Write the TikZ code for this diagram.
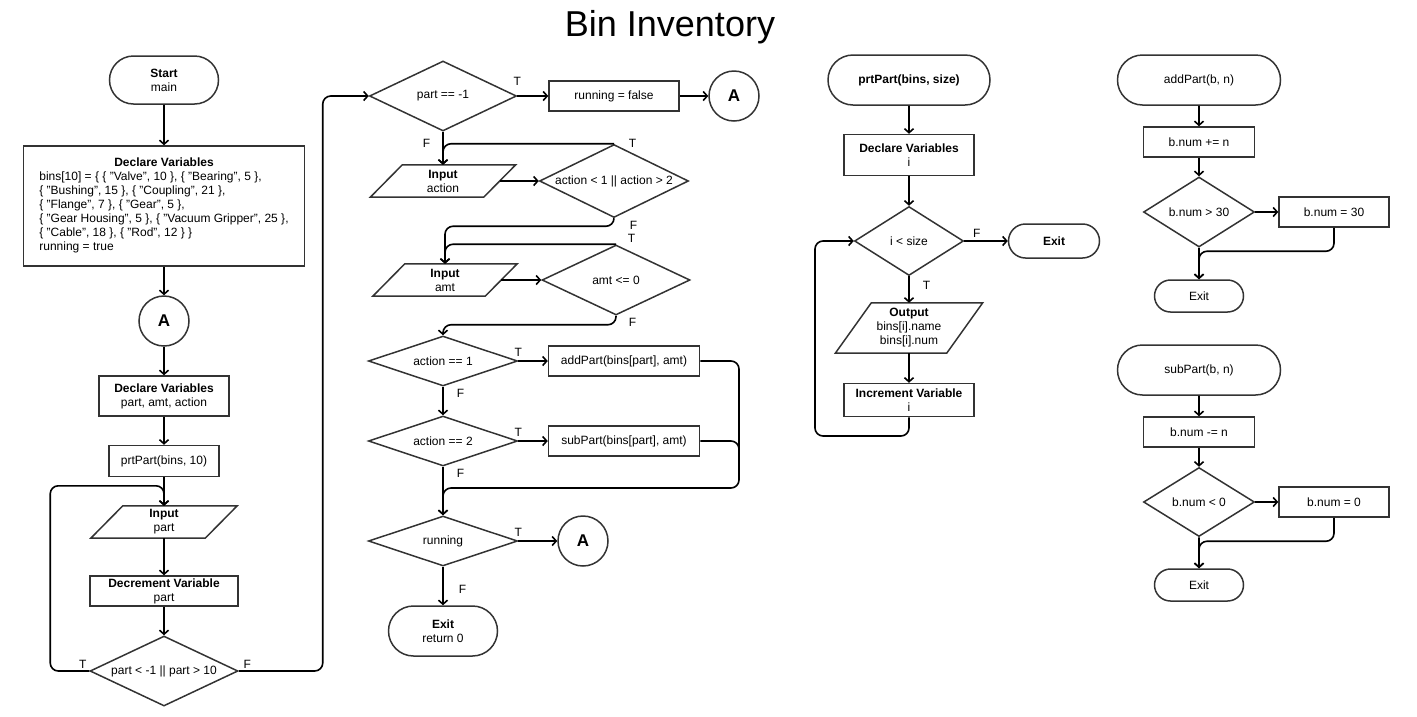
\documentclass[tikz,border=0pt]{standalone}
\usepackage{fontspec}
\setmainfont{Liberation Sans}
\usepackage{tikz}
\usetikzlibrary{arrows.meta,shapes.geometric,shapes.misc,positioning}
\definecolor{linegray}{HTML}{333333}

\begin{document}
\begin{tikzpicture}[x=1pt,y=-1pt,
  every node/.style={font=\fontsize{12}{14}\selectfont},
  sz/.style 2 args={minimum width=#1pt,minimum height=#2pt},
  shapeframe/.style={draw=linegray,line width=1.5pt},
  box/.style={shapeframe,rectangle,inner sep=0pt,align=center},
  term/.style={shapeframe,rounded rectangle,inner sep=0pt,align=center},
  cond/.style={shapeframe,diamond,aspect=2,inner sep=0pt,align=center},
  con/.style={shapeframe,circle,minimum size=50pt,inner sep=0pt,font=\fontsize{17}{20}\selectfont\bfseries},
  io/.style={rectangle,inner sep=0pt,align=center},
  flow/.style={draw=black,line width=1.6pt,rounded corners=8pt,-{Straight Barb[length=4pt,width=9pt]}},
  lbl/.style={inner sep=1pt}]
\useasboundingbox (0,0) rectangle (1417,716);
\node[font=\fontsize{36}{43}\selectfont] (title) at (670,27) {Bin Inventory};

\node[term,sz={109}{48}] (start) at (164,80) {\textbf{Start}\\main};
\node[box,sz={281}{120}] (vars) at (164,206) {\begin{tabular}{@{}l@{}}
\multicolumn{1}{@{}c@{}}{\textbf{Declare Variables}}\\
bins[10] = \{ \{ "Valve", 10 \}, \{ "Bearing", 5 \},\\
\{ "Bushing", 15 \}, \{ "Coupling", 21 \},\\
\{ "Flange", 7 \}, \{ "Gear", 5 \},\\
\{ "Gear Housing", 5 \}, \{ "Vacuum Gripper", 25 \},\\
\{ "Cable", 18 \}, \{ "Rod", 12 \} \}\\
running = true
\end{tabular}};
\node[con] (a1) at (164,321) {A};
\node[box,sz={130}{40}] (vars2) at (164,396) {\textbf{Declare Variables}\\part, amt, action};
\node[box,sz={110}{31}] (call) at (164,461) {prtPart(bins, 10)};
\node[io,sz={114}{32}] (inpart) at (164,522) {\textbf{Input}\\part};
\node[box,sz={148}{30}] (decr) at (164,591) {\textbf{Decrement Variable}\\part};
\node[cond,sz={148}{70}] (chk) at (164,671) {part < -1 || part > 10};

\node[cond,sz={147}{70}] (neg) at (443,96) {part == -1};
\node[box,sz={130}{30}] (stop) at (614,96) {running = false};
\node[con] (a2) at (734,96) {A};
\node[io,sz={113}{32}] (inact) at (443,181) {\textbf{Input}\\action};
\node[cond,sz={149}{73}] (actchk) at (614,181) {action < 1 || action > 2};
\node[io,sz={112}{32}] (inamt) at (445,280) {\textbf{Input}\\amt};
\node[cond,sz={148}{70}] (amtchk) at (616,280) {amt <= 0};
\node[cond,sz={149}{50}] (act1) at (443,361) {action == 1};
\node[box,sz={151}{30}] (add) at (624,361) {addPart(bins[part], amt)};
\node[cond,sz={149}{50}] (act2) at (443,441) {action == 2};
\node[box,sz={151}{30}] (sub) at (624,441) {subPart(bins[part], amt)};
\node[cond,sz={149}{50}] (run) at (443,541) {running};
\node[con] (a3) at (583,541) {A};
\node[term,sz={109}{50}] (exit) at (443,631) {\textbf{Exit}\\return 0};
\coordinate (join) at (739,488);

\node[term,sz={162}{50}] (prt) at (909,80) {\textbf{prtPart(bins, size)}};
\node[box,sz={130}{41}] (vars3) at (909,155) {\textbf{Declare Variables}\\i};
\node[cond,sz={109}{69}] (loop) at (909,241) {i < size};
\node[term,sz={91}{34}] (exit2) at (1054,241) {\textbf{Exit}};
\node[io,sz={111}{50}] (out) at (909,328) {\textbf{Output}\\bins[i].name\\bins[i].num};
\node[box,sz={130}{33}] (incr) at (909,400) {\textbf{Increment Variable}\\i};
\coordinate (back) at (815,436);

\node[term,sz={163}{50}] (addf) at (1199,80) {addPart(b, n)};
\node[box,sz={111}{30}] (inc) at (1199,142) {b.num += n};
\node[cond,sz={111}{70}] (max) at (1199,212) {b.num > 30};
\node[box,sz={110}{30}] (cap) at (1334,212) {b.num = 30};
\node[term,sz={89}{32}] (exit3) at (1199,296) {Exit};
\node[term,sz={163}{50}] (subf) at (1199,370) {subPart(b, n)};
\node[box,sz={111}{30}] (dec) at (1199,432) {b.num -= n};
\node[cond,sz={111}{69}] (min) at (1199,502) {b.num < 0};
\node[box,sz={110}{30}] (floor) at (1334,502) {b.num = 0};
\node[term,sz={89}{32}] (exit4) at (1199,585) {Exit};

\foreach \n/\dx in {inpart/16,inact/16,inamt/16,out/18}
  \draw[shapeframe] ([xshift=\dx]\n.north west) -- ([xshift=\dx]\n.north east)
    -- ([xshift=-\dx]\n.south east) -- ([xshift=-\dx]\n.south west) -- cycle;

\draw[flow] (start) -- (vars);
\draw[flow] (vars) -- (a1);
\draw[flow] (a1) -- (vars2);
\draw[flow] (vars2) -- (call);
\draw[flow] (call) -- (inpart);
\draw[flow] (inpart) -- (decr);
\draw[flow] (decr) -- (chk);
\draw[flow] (chk.west) node[lbl,above left=1pt and 1pt] {T} -- ++(-39,0) |- ([yshift=20]inpart.north) -- (inpart.north);
\draw[flow] (chk.east) node[lbl,above right=1pt and 3pt] {F} -- ++(84,0) |- (neg.west);

\draw[flow] (neg.east) node[lbl,above=9pt] {T} -- (stop);
\draw[flow] (stop) -- (a2);
\draw[flow] (neg.south) node[lbl,below left=6pt and 11pt] {F} -- (inact);
\draw[flow] (actchk.north) node[lbl,right=13pt] {T} -| (inact.north);
\draw[flow] (inact.east) -- (actchk);
\draw[flow] (actchk.south) node[lbl,below right=1pt and 14pt] {F} -- ++(0,8) -| (inamt.north);
\draw[flow] (amtchk.north) node[lbl,above right=0pt and 10pt] {T} -| (inamt.north);
\draw[flow] (inamt.east) -- (amtchk);
\draw[flow] (amtchk.south) node[lbl,below right=1pt and 11pt] {F} -- ++(0,9) -| (act1.north);
\draw[flow] (act1.east) node[lbl,above=3pt] {T} -- (add);
\draw[flow] (act1.south) node[lbl,below right=1pt and 12pt] {F} -- (act2);
\draw[flow] (act2.east) node[lbl,above=3pt] {T} -- (sub);
\draw[flow] (act2.south) node[lbl,below right=1pt and 12pt] {F} -- (run);
\draw[flow] (add.east) -| (join) -| (run.north);
\draw[flow,-] (sub.east) -| ([yshift=12]join);
\draw[flow] (run.east) node[lbl,above=3pt] {T} -- (a3);
\draw[flow] (run) -- node[lbl,right=14pt,pos=0.6] {F} (exit);

\draw[flow] (prt) -- (vars3);
\draw[flow] (vars3) -- (loop);
\draw[flow] (loop.east) node[lbl,above right=2pt and 7pt] {F} -- (exit2);
\draw[flow] (loop.south) node[lbl,below right=3pt and 12pt] {T} -- (out);
\draw[flow] (out) -- (incr);
\draw[flow] (incr.south) |- (back) |- (loop.west);

\draw[flow] (addf) -- (inc);
\draw[flow] (inc) -- (max);
\draw[flow] (max.east) -- (cap);
\draw[flow] (max.south) -- (exit3);
\draw[flow] (cap.south) |- ([yshift=28]exit3.north) -- (exit3.north);

\draw[flow] (subf) -- (dec);
\draw[flow] (dec) -- (min);
\draw[flow] (min.east) -- (floor);
\draw[flow] (min.south) -- (exit4);
\draw[flow] (floor.south) |- ([yshift=27]exit4.north) -- (exit4.north);
\end{tikzpicture}
\end{document}
